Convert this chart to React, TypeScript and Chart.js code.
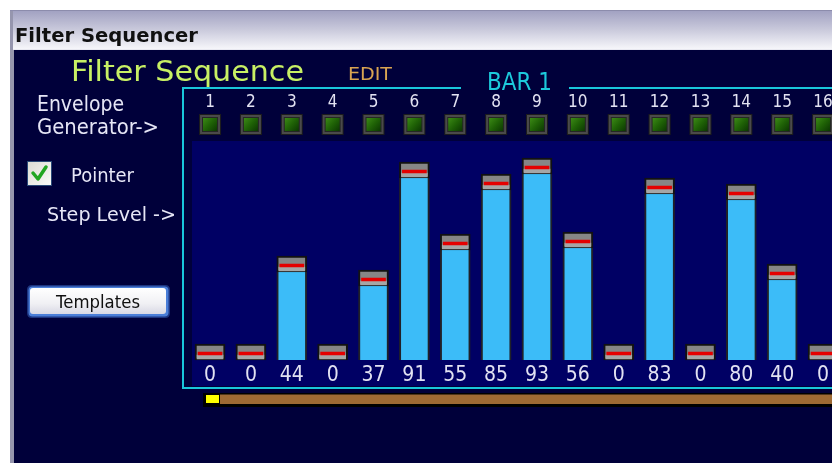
import { useEffect, useRef } from 'react';
import { Chart, registerables } from 'chart.js';

Chart.register(...registerables);

// ---- data ----
const STEP_NUMBERS = ['1', '2', '3', '4', '5', '6', '7', '8', '9', '10', '11', '12', '13', '14', '15', '16'];
const STEP_LEVELS = [0, 0, 44, 0, 37, 91, 55, 85, 93, 56, 0, 83, 0, 80, 40, 0];
const LEVEL_LABELS = STEP_LEVELS.map((v) => String(v));
const Y_MIN = -0.5;
const Y_MAX = 109.5;

// handle geometry in value units (style constants)
const HANDLE_H = 8;

const COND = "'DejaVu Sans Condensed', 'DejaVu Sans', sans-serif";
const SANS = "'DejaVu Sans', 'Noto Sans', sans-serif";

function fitText(
  ctx: CanvasRenderingContext2D,
  text: string,
  left: number,
  right: number,
  capTop: number,
  baseline: number,
  color: string,
  family: string,
  weight = 'normal'
) {
  const size = (baseline - capTop) / 0.729;
  ctx.save();
  ctx.font = `${weight} ${size}px ${family}`;
  ctx.textAlign = 'left';
  ctx.textBaseline = 'alphabetic';
  const w = ctx.measureText(text).width;
  const sx = (right - left) / w;
  ctx.translate(left, baseline);
  ctx.scale(sx, 1);
  ctx.fillStyle = color;
  ctx.fillText(text, 0, 0);
  ctx.restore();
}

const decorPlugin = {
  id: 'decor',
  beforeDraw(chart: any) {
    const ctx: CanvasRenderingContext2D = chart.ctx;
    const W = chart.width;
    const H = chart.height;
    const xs = chart.scales.x;
    const ca = chart.chartArea;
    ctx.save();
    // page
    ctx.fillStyle = '#ffffff';
    ctx.fillRect(0, 0, W, H);
    // window left border
    ctx.fillStyle = '#9696ae';
    ctx.fillRect(10, 10, 4, H - 10);
    ctx.fillStyle = '#60607c';
    ctx.fillRect(14, 10, 2, H - 10);
    // title bar
    ctx.fillStyle = '#8c8cac';
    ctx.fillRect(10, 10, W - 10, 1);
    const g = ctx.createLinearGradient(0, 11, 0, 49);
    g.addColorStop(0, '#a2a2c2');
    g.addColorStop(0.5, '#cacadc');
    g.addColorStop(1, '#f6f6fa');
    ctx.fillStyle = g;
    ctx.fillRect(13, 11, W - 13, 38);
    ctx.fillStyle = '#e8e8f0';
    ctx.fillRect(13, 49, W - 13, 1);
    fitText(ctx, 'Filter Sequencer', 15, 198, 27.5, 41.5, '#101010', SANS, 'bold');
    // main panel
    ctx.fillStyle = '#00003a';
    ctx.fillRect(14, 50, W - 14, H - 50);

    // bright step area
    ctx.fillStyle = '#000064';
    ctx.fillRect(192, ca.top, W - 192, 386 - ca.top);

    // cyan frame
    ctx.fillStyle = '#19c6da';
    ctx.fillRect(182, 87, 2, 302);
    ctx.fillRect(182, 87, 279, 2);
    ctx.fillRect(569, 87, W - 569, 2);
    ctx.fillRect(182, 387, W - 182, 2);

    // headings
    fitText(ctx, 'Filter Sequence', 71, 304, 60, 81, '#c8f064', SANS);
    fitText(ctx, 'EDIT', 348, 392, 67, 80, '#d9a452', SANS);
    fitText(ctx, 'BAR 1', 487, 552, 72, 90, '#1ccadc', SANS);

    // left labels
    const lab = '#e6e6f6';
    fitText(ctx, 'Envelope', 37, 124, 96, 111, lab, SANS);
    fitText(ctx, 'Generator->', 37, 159, 119, 134, lab, SANS);
    fitText(ctx, 'Pointer', 71, 134, 168, 182, lab, SANS);
    fitText(ctx, 'Step Level ->', 47, 176, 207, 221, lab, SANS);

    // checkbox
    ctx.fillStyle = '#2a4a78';
    ctx.fillRect(27, 161, 25, 25);
    const cg = ctx.createLinearGradient(28, 162, 51, 185);
    cg.addColorStop(0, '#dcdcd4');
    cg.addColorStop(1, '#fbfbf8');
    ctx.fillStyle = cg;
    ctx.fillRect(28, 162, 23, 23);
    ctx.strokeStyle = '#22a622';
    ctx.lineWidth = 3.5;
    ctx.lineCap = 'round';
    ctx.lineJoin = 'round';
    ctx.beginPath();
    ctx.moveTo(33, 173);
    ctx.lineTo(38, 179);
    ctx.lineTo(46, 167);
    ctx.stroke();

    // Templates button
    const rr = (x: number, y: number, w: number, h: number, r: number) => {
      ctx.beginPath();
      ctx.moveTo(x + r, y);
      ctx.lineTo(x + w - r, y);
      ctx.quadraticCurveTo(x + w, y, x + w, y + r);
      ctx.lineTo(x + w, y + h - r);
      ctx.quadraticCurveTo(x + w, y + h, x + w - r, y + h);
      ctx.lineTo(x + r, y + h);
      ctx.quadraticCurveTo(x, y + h, x, y + h - r);
      ctx.lineTo(x, y + r);
      ctx.quadraticCurveTo(x, y, x + r, y);
      ctx.closePath();
    };
    rr(27, 285, 143, 33, 5);
    ctx.fillStyle = '#1c3480';
    ctx.fill();
    rr(28.5, 286.5, 140, 30, 4);
    ctx.fillStyle = '#4a7ed8';
    ctx.fill();
    const bg = ctx.createLinearGradient(0, 288, 0, 314);
    bg.addColorStop(0, '#ffffff');
    bg.addColorStop(0.6, '#f0f0f4');
    bg.addColorStop(1, '#d8d8e4');
    rr(30, 288, 136, 26, 3);
    ctx.fillStyle = bg;
    ctx.fill();
    fitText(ctx, 'Templates', 56, 140, 295, 307.5, '#101010', SANS);

    // envelope generator squares (one per step, placed by the x scale)
    STEP_NUMBERS.forEach((_, i) => {
      const cx = xs.getPixelForValue(i);
      ctx.fillStyle = '#1c1c1c';
      ctx.fillRect(cx - 11, 114, 22, 21);
      ctx.fillStyle = '#4a4a4a';
      ctx.fillRect(cx - 10, 115, 20, 19);
      ctx.fillStyle = '#262626';
      ctx.fillRect(cx - 8, 117, 16, 15);
      const gg = ctx.createLinearGradient(cx - 7, 118, cx + 7, 131);
      gg.addColorStop(0, '#3c8a16');
      gg.addColorStop(0.5, '#1f6206');
      gg.addColorStop(1, '#0c3802');
      ctx.fillStyle = gg;
      ctx.fillRect(cx - 7, 118, 14, 13);
    });

    // position bar
    ctx.fillStyle = '#000000';
    ctx.fillRect(203, 393, W - 203, 14);
    ctx.fillStyle = '#ffff00';
    ctx.fillRect(206, 395, 13, 8);
    ctx.fillStyle = '#9e6a34';
    ctx.fillRect(220, 394.5, W - 220, 9.5);
    ctx.restore();
  },
};

export default function App() {
  const ref = useRef<HTMLCanvasElement | null>(null);

  useEffect(() => {
    if (!ref.current) return;
    const chart = new Chart(ref.current, {
      type: 'bar',
      data: {
        labels: STEP_NUMBERS,
        datasets: [
          {
            label: 'marker',
            data: STEP_LEVELS.map((v) => [v + 2.5, v + 4]),
            backgroundColor: '#e40000',
            borderWidth: 0,
            barThickness: 24,
            order: 0,
          },
          {
            label: 'handle-low',
            data: STEP_LEVELS.map((v) => [v + 0.6, v + 2.5]),
            backgroundColor: '#a6a6a6',
            borderWidth: 0,
            barThickness: 26,
            order: 1,
          },
          {
            label: 'handle',
            data: STEP_LEVELS.map((v) => [v, v + HANDLE_H]),
            backgroundColor: '#868686',
            borderColor: '#121212',
            borderWidth: 2,
            borderSkipped: false,
            barThickness: 30,
            order: 2,
          },
          {
            label: 'level',
            data: STEP_LEVELS,
            backgroundColor: '#3cbcf8',
            borderColor: '#202028',
            borderWidth: { left: 2, right: 2, top: 0, bottom: 0 },
            borderSkipped: false,
            barThickness: 30,
            order: 3,
          },
        ] as any,
      },
      options: {
        animation: false,
        responsive: false,
        devicePixelRatio: 1,
        layout: { padding: { left: 189.6, right: 36.5, top: 63.6, bottom: 72 } },
        plugins: { legend: { display: false }, tooltip: { enabled: false } },
        datasets: { bar: { grouped: false } } as any,
        scales: {
          x: {
            type: 'category',
            position: 'top',
            offset: true,
            grid: { display: false, drawTicks: false },
            border: { display: false },
            ticks: {
              color: '#e2e2f2',
              font: { family: COND, size: 17, lineHeight: 1.2 },
              padding: 28.5,
              maxRotation: 0,
              autoSkip: false,
            },
          },
          x2: {
            type: 'category',
            labels: LEVEL_LABELS,
            position: 'bottom',
            offset: true,
            grid: { display: false, drawTicks: false },
            border: { display: false },
            ticks: {
              color: '#e2e2f2',
              font: { family: COND, size: 21, lineHeight: 1.2 },
              padding: 2.4,
              maxRotation: 0,
              autoSkip: false,
            },
          },
          y: { display: false, min: Y_MIN, max: Y_MAX },
        },
      } as any,
      plugins: [decorPlugin],
    });
    return () => chart.destroy();
  }, []);

  return (
    <div
      style={{
        position: 'fixed',
        left: 0,
        top: 0,
        width: 832,
        height: 463,
        overflow: 'hidden',
        background: '#ffffff',
      }}
    >
      <canvas ref={ref} width={880} height={463} style={{ display: 'block', width: 880, height: 463 }} />
    </div>
  );
}
